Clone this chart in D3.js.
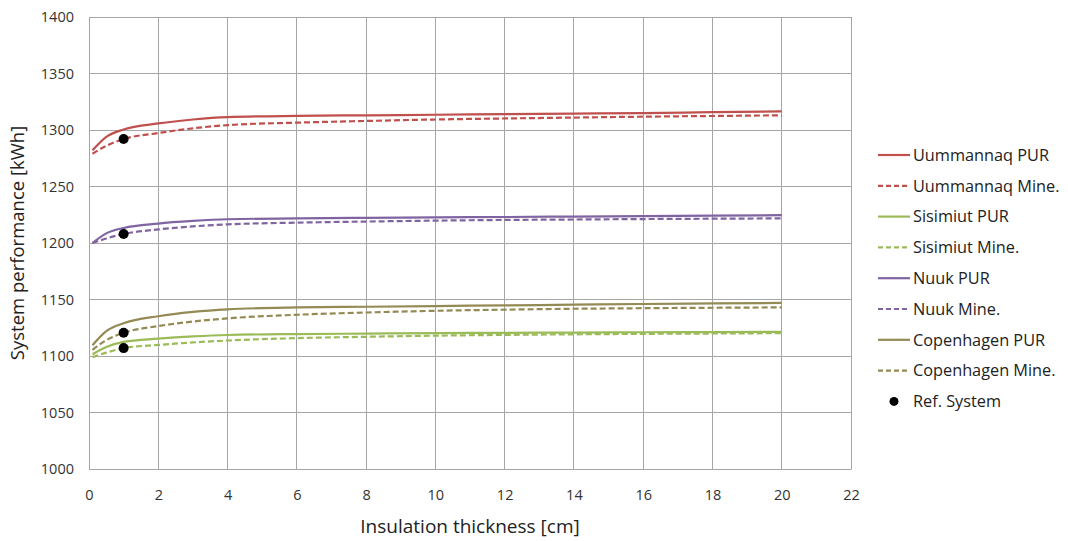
<!DOCTYPE html>
<html>
<head>
<meta charset="utf-8">
<script src="https://cdn.jsdelivr.net/npm/d3@7"></script>
<style>
  html, body { margin: 0; padding: 0; background: #fff; }
  svg { display: block; font-family: "Open Sans", "Liberation Sans", sans-serif; }
</style>
</head>
<body>
<svg id="chart" width="1068" height="541"></svg>
<script>
// Insulation thickness [cm]
const thickness = [0.1, 0.5, 1, 2, 3, 4, 6, 8, 10, 12, 14, 16, 18, 20];

// System performance [kWh] per location and insulation material
const uummannaqPUR  = [1282, 1294, 1300.5, 1305.8, 1309.3, 1311.4, 1312.5, 1313, 1313.5, 1314, 1314.5, 1315, 1315.8, 1316.5];
const uummannaqMine = [1279, 1286, 1292, 1297.3, 1301.5, 1304.3, 1306.5, 1308, 1309.3, 1310.2, 1311, 1311.8, 1312.4, 1313];
const sisimiutPUR   = [1101.5, 1108, 1112.5, 1115.3, 1117.3, 1118.6, 1119.4, 1119.8, 1120.2, 1120.5, 1120.7, 1121, 1121.2, 1121.4];
const sisimiutMine  = [1099, 1103, 1107, 1109.8, 1112, 1113.7, 1115.8, 1117, 1118, 1118.7, 1119.2, 1119.6, 1119.9, 1120.2];
const nuukPUR       = [1200, 1208.5, 1213.3, 1217.2, 1219.5, 1221, 1221.8, 1222.3, 1222.7, 1223, 1223.4, 1223.8, 1224.2, 1224.6];
const nuukMine      = [1200, 1204, 1208, 1212, 1214.7, 1216.5, 1218, 1219, 1219.8, 1220.4, 1220.8, 1221.2, 1221.5, 1221.8];
const copenhagenPUR = [1109.5, 1122, 1129, 1135.2, 1139, 1141.3, 1143, 1143.6, 1144.2, 1144.8, 1145.4, 1146, 1146.5, 1147];
const copenhagenMine= [1105.5, 1114, 1120.5, 1126.5, 1130.5, 1133.3, 1136.5, 1138.5, 1140, 1141, 1141.8, 1142.3, 1142.7, 1143];

// Reference system points (1 cm)
const refX = [1, 1, 1, 1];
const refY = [1292, 1208, 1120.5, 1107];

const xTicks = [0, 2, 4, 6, 8, 10, 12, 14, 16, 18, 20, 22];
const yTicks = [1000, 1050, 1100, 1150, 1200, 1250, 1300, 1350, 1400];

const seriesNames = ["Uummannaq PUR", "Uummannaq Mine.", "Sisimiut PUR", "Sisimiut Mine.",
                     "Nuuk PUR", "Nuuk Mine.", "Copenhagen PUR", "Copenhagen Mine."];
const seriesValues = [uummannaqPUR, uummannaqMine, sisimiutPUR, sisimiutMine,
                      nuukPUR, nuukMine, copenhagenPUR, copenhagenMine];
const seriesColors = ["#C0504D", "#C0504D", "#9BBB59", "#9BBB59",
                      "#8064A2", "#8064A2", "#948A54", "#948A54"];
const seriesDashed = [false, true, false, true, false, true, false, true];

const svg = d3.select("#chart");
const plot = { left: 89, right: 851, top: 17, bottom: 469 };

const x = d3.scaleLinear().domain([0, 22]).range([plot.left, plot.right]);
const y = d3.scaleLinear().domain([1000, 1400]).range([plot.bottom, plot.top]);

// Gridlines
const grid = svg.append("g");
grid.selectAll("line.v").data(xTicks).join("line")
  .attr("x1", d => x(d)).attr("x2", d => x(d))
  .attr("y1", plot.top).attr("y2", plot.bottom)
  .attr("stroke", "#A6A6A6").attr("stroke-width", 1).attr("shape-rendering", "crispEdges");
grid.selectAll("line.h").data(yTicks).join("line")
  .attr("x1", plot.left).attr("x2", plot.right)
  .attr("y1", d => y(d)).attr("y2", d => y(d))
  .attr("stroke", "#A6A6A6").attr("stroke-width", 1).attr("shape-rendering", "crispEdges");

// Axes
const xAxis = svg.append("g")
  .attr("transform", `translate(0,${plot.bottom})`)
  .call(d3.axisBottom(x).tickValues(xTicks).tickSize(0).tickPadding(21).tickFormat(d3.format("d")));
const yAxis = svg.append("g")
  .attr("transform", `translate(${plot.left},0)`)
  .call(d3.axisLeft(y).tickValues(yTicks).tickSize(0).tickPadding(15).tickFormat(d3.format("d")));
[xAxis, yAxis].forEach(a => {
  a.select(".domain").attr("stroke", "#A6A6A6");
  a.selectAll("text").attr("font-size", 14.5).attr("fill", "#333")
    .attr("font-family", "'Open Sans', sans-serif");
});

// Axis titles
svg.append("text")
  .attr("x", x(11)).attr("y", 533)
  .attr("text-anchor", "middle").attr("font-size", 19).attr("fill", "#222")
  .text("Insulation thickness [cm]");
svg.append("text")
  .attr("transform", `translate(24,${(plot.top + plot.bottom) / 2}) rotate(-90)`)
  .attr("text-anchor", "middle").attr("font-size", 18.5).attr("fill", "#222")
  .text("System performance [kWh]");

// Curves
const line = d3.line()
  .x((d, i) => x(thickness[i]))
  .y(d => y(d))
  .curve(d3.curveMonotoneX);

svg.append("g").selectAll("path").data(seriesValues).join("path")
  .attr("d", d => line(d))
  .attr("fill", "none")
  .attr("stroke", (d, i) => seriesColors[i])
  .attr("stroke-width", 2.2)
  .attr("stroke-dasharray", (d, i) => seriesDashed[i] ? "6,3" : null);

// Reference system points
svg.append("g").selectAll("circle").data(refY).join("circle")
  .attr("cx", (d, i) => x(refX[i]))
  .attr("cy", d => y(d))
  .attr("r", 5)
  .attr("fill", "#000");

// Legend
const legend = svg.append("g").attr("transform", "translate(878,155)");
const rowH = 30.8;
seriesNames.forEach((name, i) => {
  const g = legend.append("g").attr("transform", `translate(0,${i * rowH})`);
  g.append("line")
    .attr("x1", 0).attr("x2", 32).attr("y1", 0).attr("y2", 0)
    .attr("stroke", seriesColors[i]).attr("stroke-width", 2.2)
    .attr("stroke-dasharray", seriesDashed[i] ? "5,3" : null);
  g.append("text")
    .attr("x", 35).attr("y", 0).attr("dy", "0.35em")
    .attr("font-size", 16.3).attr("fill", "#222")
    .text(name);
});
const refRow = legend.append("g").attr("transform", `translate(0,${seriesNames.length * rowH})`);
refRow.append("circle").attr("cx", 16).attr("cy", 0).attr("r", 4.5).attr("fill", "#000");
refRow.append("text")
  .attr("x", 35).attr("y", 0).attr("dy", "0.35em")
  .attr("font-size", 16.3).attr("fill", "#222")
  .text("Ref. System");
</script>
</body>
</html>
